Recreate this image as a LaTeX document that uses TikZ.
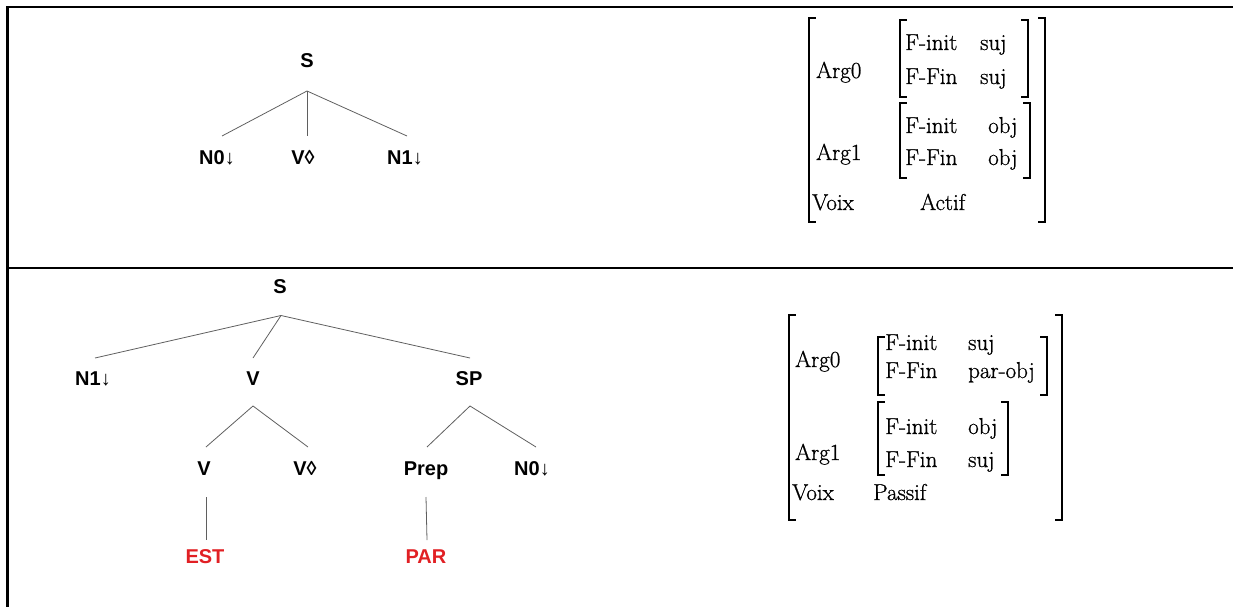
\documentclass[tikz,border=0pt]{standalone}
\usepackage{fontspec}
\newfontfamily\treefont{Liberation Sans}
\newfontfamily\avmfont[FakeBold=0.9]{Latin Modern Roman}
\definecolor{leafred}{RGB}{225,32,36}
\definecolor{branchgray}{RGB}{95,95,95}

\tikzset{
  frame/.style={line width=2.2pt, black, line cap=rect},
  branch/.style={draw=branchgray, line width=0.8pt},
  cat/.style={font=\treefont\bfseries\fontsize{20}{23}\selectfont, inner sep=0pt, anchor=base},
  leaf/.style={cat, text=leafred},
  avm/.style={font=\avmfont\fontsize{23}{27}\selectfont, inner sep=0pt, anchor=base west},
  brk/.style={line width=1.4pt, line cap=rect},
}

% a pair of square brackets enclosing an attribute-value matrix
\newcommand\avmbrackets[4]{%
  \draw[brk] (#1+6,#2) -- (#1,#2) -- (#1,#4) -- (#1+6,#4);
  \draw[brk] (#3-6,#2) -- (#3,#2) -- (#3,#4) -- (#3-6,#4);
}

\begin{document}
\begin{tikzpicture}[x=1pt,y=-1pt]
\useasboundingbox (0,0) rectangle (1233,607);

% table rules
\draw[frame] (1234,7) -- (7.5,7) -- (7.5,608);
\draw[frame] (7.5,268) -- (1234,268);

% ---------- active elementary tree ----------
\node[cat] (aS)  at (307,67.5) {S};
\node[cat] (aN0) at (217,164) {N0↓};
\node[cat] (aV)  at (303,164) {V◊};
\node[cat] (aN1) at (405,164) {N1↓};
\coordinate (aSj)  at (307,91);
\coordinate (aN0t) at (222,136);
\coordinate (aVt)  at (307,136);
\coordinate (aN1t) at (407,136);
\draw[branch] (aSj) -- (aN0t);
\draw[branch] (aSj) -- (aVt);
\draw[branch] (aSj) -- (aN1t);

% ---------- passive elementary tree ----------
\node[cat]  (pS)    at (280,293.5) {S};
\node[cat]  (pN1)   at (93,385)    {N1↓};
\node[cat]  (pV)    at (253,385)   {V};
\node[cat]  (pSP)   at (469,385)   {SP};
\node[cat]  (pVa)   at (204,475.5) {V};
\node[cat]  (pVb)   at (305,475.5) {V◊};
\node[cat]  (pPrep) at (426,475.5) {Prep};
\node[cat]  (pN0)   at (532,475.5) {N0↓};
\node[leaf] (pEST)  at (205,563)   {EST};
\node[leaf] (pPAR)  at (426,563)   {PAR};

\coordinate (pSj)   at (281,315.5);
\coordinate (pN1t)  at (95,358);
\coordinate (pVt)   at (253,358);
\coordinate (pSPt)  at (470,358);
\coordinate (pVj)   at (253,406);
\coordinate (pVat)  at (206,447);
\coordinate (pVbt)  at (308,447);
\coordinate (pSPj)  at (470,406);
\coordinate (pPrt)  at (427,447);
\coordinate (pN0t)  at (536,447);
\coordinate (pVab)  at (206,497);
\coordinate (pESTt) at (206,540);
\coordinate (pPrb)  at (426,497);
\coordinate (pPARt) at (427,540);

\draw[branch] (pSj) -- (pN1t);
\draw[branch] (pSj) -- (pVt);
\draw[branch] (pSj) -- (pSPt);
\draw[branch] (pVj) -- (pVat);
\draw[branch] (pVj) -- (pVbt);
\draw[branch] (pSPj) -- (pPrt);
\draw[branch] (pSPj) -- (pN0t);
\draw[branch] (pVab) -- (pESTt);
\draw[branch] (pPrb) -- (pPARt);

% ---------- active feature structure ----------
\avmbrackets{809}{18}{1045}{222}
\avmbrackets{900}{20}{1028}{97}
\avmbrackets{900}{103}{1030}{178}
\node[avm] (aArg0)  at (816,78)  {Arg0};
\node[avm] (aFi0)   at (905,50)  {F-init};
\node[avm] (aFi0v)  at (980,50)  {suj};
\node[avm] (aFf0)   at (905,84)  {F-Fin};
\node[avm] (aFf0v)  at (980,84)  {suj};
\node[avm] (aArg1)  at (816,160) {Arg1};
\node[avm] (aFi1)   at (905,133) {F-init};
\node[avm] (aFi1v)  at (988,133) {obj};
\node[avm] (aFf1)   at (905,165) {F-Fin};
\node[avm] (aFf1v)  at (988,165) {obj};
\node[avm] (aVoix)  at (812,210) {Voix};
\node[avm] (aVoixv) at (920,210) {Actif};

% ---------- passive feature structure ----------
\avmbrackets{789}{315}{1062}{520}
\avmbrackets{878}{337}{1047}{395}
\avmbrackets{878}{402}{1008}{475}
\node[avm] (pArg0)  at (795,367) {Arg0};
\node[avm] (pFi0)   at (885,350) {F-init};
\node[avm] (pFi0v)  at (968,350) {suj};
\node[avm] (pFf0)   at (885,378) {F-Fin};
\node[avm] (pFf0v)  at (968,378) {par-obj};
\node[avm] (pArg1)  at (795,460) {Arg1};
\node[avm] (pFi1)   at (885,434) {F-init};
\node[avm] (pFi1v)  at (968,434) {obj};
\node[avm] (pFf1)   at (885,467) {F-Fin};
\node[avm] (pFf1v)  at (968,467) {suj};
\node[avm] (pVoix)  at (792,500) {Voix};
\node[avm] (pVoixv) at (873,500) {Passif};
\end{tikzpicture}
\end{document}
